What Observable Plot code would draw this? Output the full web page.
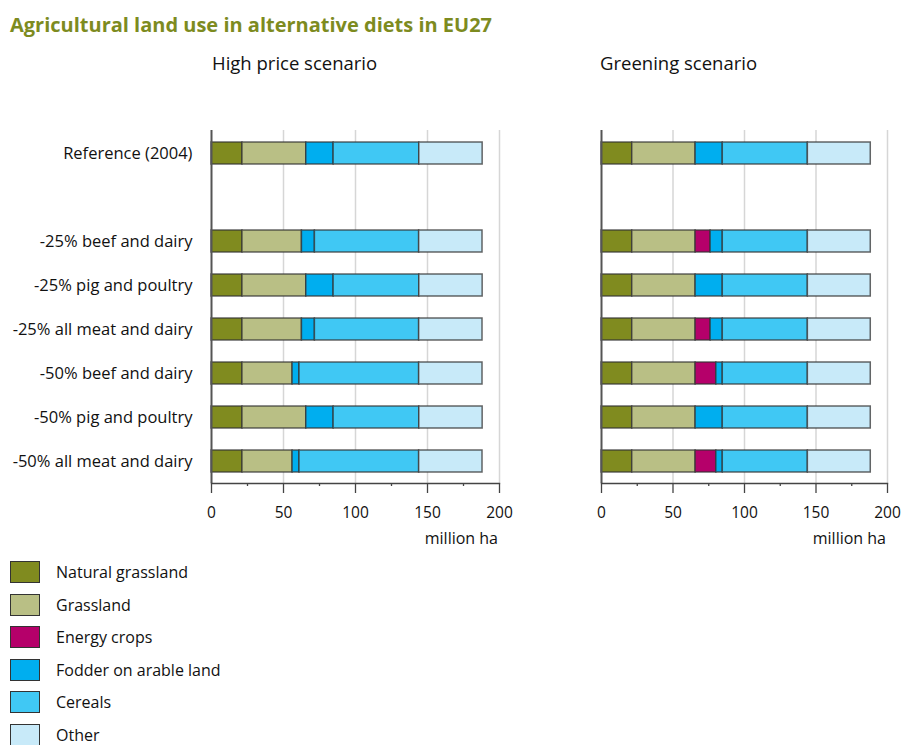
<!DOCTYPE html>
<html>
<head>
<meta charset="utf-8">
<script src="https://cdn.jsdelivr.net/npm/d3@7"></script>
<script src="https://cdn.jsdelivr.net/npm/@observablehq/plot@0.6"></script>
<style>
  html, body { margin: 0; padding: 0; background: #fff; }
  body { width: 903px; height: 745px; position: relative; overflow: hidden; font-family: "Open Sans", sans-serif; color: #111; }
  .abs { position: absolute; }
  #title { left: 10px; top: 11px; font-size: 20px; font-weight: 700; color: #7d8b1f; white-space: nowrap; }
  .sub { top: 50px; font-size: 18.5px; white-space: nowrap; }
  .unit { top: 527px; font-size: 16px; white-space: nowrap; text-align: right; width: 120px; }
  #legend { left: 10px; top: 561px; }
  .item { display: flex; align-items: center; height: 32.5px; font-size: 16px; }
  .sw { width: 28px; height: 20px; border: 1px solid #333; margin-right: 16px; margin-top: -10px; }
  .lab { margin-top: -10px; }
</style>
</head>
<body>
<div id="title" class="abs">Agricultural land use in alternative diets in EU27</div>
<div class="abs sub" style="left:212px">High price scenario</div>
<div class="abs sub" style="left:600px">Greening scenario</div>
<div id="left" class="abs" style="left:0px; top:100px"></div>
<div id="right" class="abs" style="left:560px; top:100px"></div>
<div class="abs unit" style="left:378px">million ha</div>
<div class="abs unit" style="left:766px">million ha</div>
<div id="legend" class="abs"></div>
<script>
// Categories (land use types) and colours
const categories = ["Natural grassland", "Grassland", "Energy crops", "Fodder on arable land", "Cereals", "Other"];
const colors = ["#808b1f", "#b9bf85", "#b5006a", "#00aeef", "#40c8f4", "#c8eaf9"];

// Diets (rows)
const diets = ["Reference (2004)", "-25% beef and dairy", "-25% pig and poultry", "-25% all meat and dairy",
               "-50% beef and dairy", "-50% pig and poultry", "-50% all meat and dairy"];

// High price scenario (million ha)
const highNatural   = [21.5, 21.5, 21.5, 21.5, 21.5, 21.5, 21.5];
const highGrassland = [44.3, 41.3, 44.3, 41.3, 34.8, 44.3, 34.8];
const highEnergy    = [0, 0, 0, 0, 0, 0, 0];
const highFodder    = [19.0, 9.0, 19.0, 9.0, 4.8, 19.0, 4.8];
const highCereals   = [59.5, 72.4, 59.5, 72.4, 83.1, 59.5, 83.1];
const highOther     = [44.0, 44.0, 44.0, 44.0, 44.0, 44.0, 44.0];

// Greening scenario (million ha)
const greenNatural   = [21.5, 21.5, 21.5, 21.5, 21.5, 21.5, 21.5];
const greenGrassland = [44.3, 44.3, 44.3, 44.3, 44.3, 44.3, 44.3];
const greenEnergy    = [0, 10.5, 0, 10.5, 14.5, 0, 14.5];
const greenFodder    = [19.0, 8.5, 19.0, 8.5, 4.5, 19.0, 4.5];
const greenCereals   = [59.5, 59.5, 59.5, 59.5, 59.5, 59.5, 59.5];
const greenOther     = [44.0, 44.0, 44.0, 44.0, 44.0, 44.0, 44.0];

const xTicks = [0, 50, 100, 150, 200];
const xMinorTicks = [25, 75, 125, 175];

function toRows(series) {
  const rows = [];
  diets.forEach((d, i) => {
    categories.forEach((c, j) => {
      const v = series[j][i];
      if (v > 0) rows.push({diet: d, category: c, value: v});
    });
  });
  return rows;
}

const highRows = toRows([highNatural, highGrassland, highEnergy, highFodder, highCereals, highOther]);
const greenRows = toRows([greenNatural, greenGrassland, greenEnergy, greenFodder, greenCereals, greenOther]);

const yDomain = [diets[0], " ", ...diets.slice(1)];

function chart(rows, showY, marginLeft, marginRight, width) {
  const marks = [
    Plot.gridX(xTicks.slice(1), {stroke: "#d6d6d6", strokeOpacity: 1, strokeWidth: 1.5}),
    Plot.barX(rows, Plot.stackX({
      x: "value", y: "diet", fill: "category", order: categories,
      stroke: "#333", strokeOpacity: 0.75, strokeWidth: 1.5
    })),
    Plot.ruleX([0], {stroke: "#555", strokeWidth: 2}),
    Plot.axisX(xTicks, {tickSize: 10, tickPadding: 13, fontSize: 15.5, stroke: "#444", strokeWidth: 1.3, label: null}),
    Plot.axisX(xMinorTicks, {tickSize: 3, tickFormat: () => "", stroke: "#444", strokeWidth: 1.3, label: null}),
    Plot.frame({anchor: "bottom", stroke: "#444", strokeWidth: 1.3})
  ];
  if (showY) {
    marks.push(Plot.axisY({tickSize: 0, tickPadding: 19, fontSize: 16.5, label: null}));
  } else {
    marks.push(Plot.axisY({ticks: [], label: null}));
  }
  return Plot.plot({
    width, height: 443,
    marginTop: 30, marginBottom: 60, marginLeft, marginRight,
    style: {fontFamily: "Open Sans, sans-serif", color: "#111", background: "transparent"},
    x: {domain: [0, 200]},
    y: {domain: yDomain, paddingInner: 0.5, paddingOuter: 0.25},
    color: {domain: categories, range: colors},
    marks
  });
}

document.getElementById("left").append(chart(highRows, true, 211, 30, 529));
document.getElementById("right").append(chart(greenRows, false, 41, 16, 343));

// Legend
const legend = document.getElementById("legend");
categories.forEach((c, i) => {
  const item = document.createElement("div");
  item.className = "item";
  const sw = document.createElement("div");
  sw.className = "sw";
  sw.style.background = colors[i];
  const lab = document.createElement("div");
  lab.className = "lab";
  lab.textContent = c;
  item.append(sw, lab);
  legend.append(item);
});
</script>
</body>
</html>
